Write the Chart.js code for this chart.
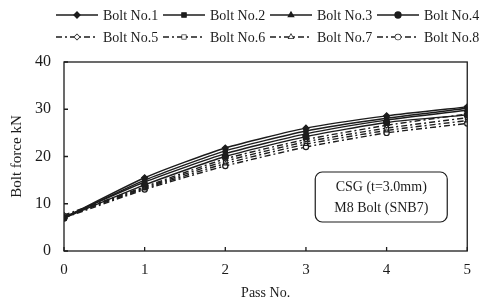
<!DOCTYPE html>
<html>
<head>
<meta charset="utf-8">
<script src="https://cdn.jsdelivr.net/npm/chart.js@4"></script>
<style>
  html,body{margin:0;padding:0;background:#fff;}
  #wrap{width:481px;height:308px;}
</style>
</head>
<body>
<div id="wrap"><canvas id="c" width="481" height="308"></canvas></div>
<script>
// data
const passNo = [0, 1, 2, 3, 4, 5];
const boltNames = ['Bolt No.1','Bolt No.2','Bolt No.3','Bolt No.4','Bolt No.5','Bolt No.6','Bolt No.7','Bolt No.8'];
const bolt1 = [7.0, 15.5, 21.8, 26.0, 28.6, 30.5];
const bolt2 = [7.0, 15.0, 21.2, 25.4, 28.1, 30.2];
const bolt3 = [7.2, 14.6, 20.6, 24.8, 27.7, 29.8];
const bolt4 = [7.0, 14.0, 20.0, 24.2, 27.2, 28.8];
const bolt5 = [7.6, 13.6, 19.5, 23.6, 26.6, 29.0];
const bolt6 = [7.4, 13.4, 19.0, 23.1, 26.0, 28.2];
const bolt7 = [7.2, 13.2, 18.5, 22.6, 25.5, 27.6];
const bolt8 = [7.0, 13.0, 18.0, 22.0, 25.0, 27.0];
const yTicks = [0, 10, 20, 30, 40];
const boxLines = ['CSG (t=3.0mm)', 'M8 Bolt (SNB7)'];

const series = [bolt1,bolt2,bolt3,bolt4,bolt5,bolt6,bolt7,bolt8];
const shapes = ['rectRot','rect','triangle','circle','rectRot','rect','triangle','circle'];
const INK = '#1c1c1c';
const SERIF = '"Liberation Serif", "DejaVu Serif", serif';
const dashDot = [6,3,2,3];

const datasets = series.map((vals,i)=>({
  label: boltNames[i],
  data: vals.map((v,j)=>({x: passNo[j], y: v})),
  borderColor: INK,
  borderWidth: 1.4,
  borderDash: i<4 ? [] : dashDot,
  pointStyle: shapes[i],
  pointRadius: i<4 ? 3 : 2.6,
  pointBackgroundColor: i<4 ? INK : '#fff',
  pointBorderColor: INK,
  pointBorderWidth: 1.2,
  tension: 0.2,
  fill: false
}));

// legend drawn in the top margin, inner ticks, frame and note box
const deco = {
  id: 'deco',
  afterDraw(chart){
    const ctx = chart.ctx, a = chart.chartArea;
    const xs = chart.scales.x, ys = chart.scales.y;
    ctx.save();
    // frame
    ctx.strokeStyle = INK; ctx.lineWidth = 1.3;
    ctx.strokeRect(a.left, a.top, a.right-a.left, a.bottom-a.top);
    // inner ticks
    ctx.beginPath();
    passNo.forEach(p=>{ const x = xs.getPixelForValue(p); ctx.moveTo(x, a.bottom); ctx.lineTo(x, a.bottom-4); });
    yTicks.forEach(t=>{ const y = ys.getPixelForValue(t); ctx.moveTo(a.left, y); ctx.lineTo(a.left+4, y); });
    ctx.stroke();
    // legend
    ctx.font = '14px ' + SERIF;
    ctx.textBaseline = 'middle';
    ctx.fillStyle = INK;
    chart.data.datasets.forEach((ds,i)=>{
      const col = i%4, row = Math.floor(i/4);
      const x0 = 56 + col*107, y0 = 15 + row*22;
      ctx.setLineDash(ds.borderDash); ctx.lineWidth = 1.3;
      ctx.beginPath(); ctx.moveTo(x0, y0); ctx.lineTo(x0+42, y0); ctx.stroke();
      ctx.setLineDash([]);
      Chart.helpers.drawPoint(ctx, {pointStyle: ds.pointStyle, radius: ds.pointRadius, borderWidth: 1}, x0+21, y0);
      ctx.fillStyle = ds.pointBackgroundColor; ctx.fill();
      ctx.fillStyle = INK;
      ctx.fillText(ds.label, x0+47, y0+1);
    });
    // note box
    const bx = a.right-152, by = a.top+110, bw = 132, bh = 50;
    ctx.beginPath(); ctx.roundRect(bx, by, bw, bh, 7);
    ctx.fillStyle = '#fff'; ctx.fill(); ctx.lineWidth = 1.2; ctx.stroke();
    ctx.fillStyle = INK; ctx.textAlign = 'center';
    ctx.font = '14px ' + SERIF;
    ctx.fillText(boxLines[0], bx+bw/2, by+15);
    ctx.fillText(boxLines[1], bx+bw/2, by+36);
    ctx.restore();
  }
};

new Chart(document.getElementById('c'), {
  type: 'line',
  data: { datasets },
  options: {
    responsive: false,
    animation: false,
    layout: { padding: { top: 62, right: 12, left: 0, bottom: 0 } },
    plugins: { legend: { display: false }, tooltip: { enabled: false } },
    scales: {
      x: {
        type: 'linear', min: 0, max: 5,
        afterFit: s => { s.height = 57; },
        grid: { display: false, drawTicks: false },
        border: { display: false },
        ticks: { stepSize: 1, color: INK, padding: 10, font: { family: SERIF, size: 15 } },
        title: { display: true, text: 'Pass No.', color: INK, padding: { top: 2, bottom: 6 }, font: { family: SERIF, size: 14 } }
      },
      y: {
        min: 0, max: 40,
        afterFit: s => { s.width = 64; },
        afterBuildTicks: s => { s.ticks = yTicks.map(v=>({value: v})); },
        grid: { display: false, drawTicks: false },
        border: { display: false },
        ticks: { color: INK, padding: 13, font: { family: SERIF, size: 16 } },
        title: { display: true, text: 'Bolt force kN', color: INK, padding: { top: 8, bottom: 4 }, font: { family: SERIF, size: 15 } }
      }
    }
  },
  plugins: [deco]
});
</script>
</body>
</html>
